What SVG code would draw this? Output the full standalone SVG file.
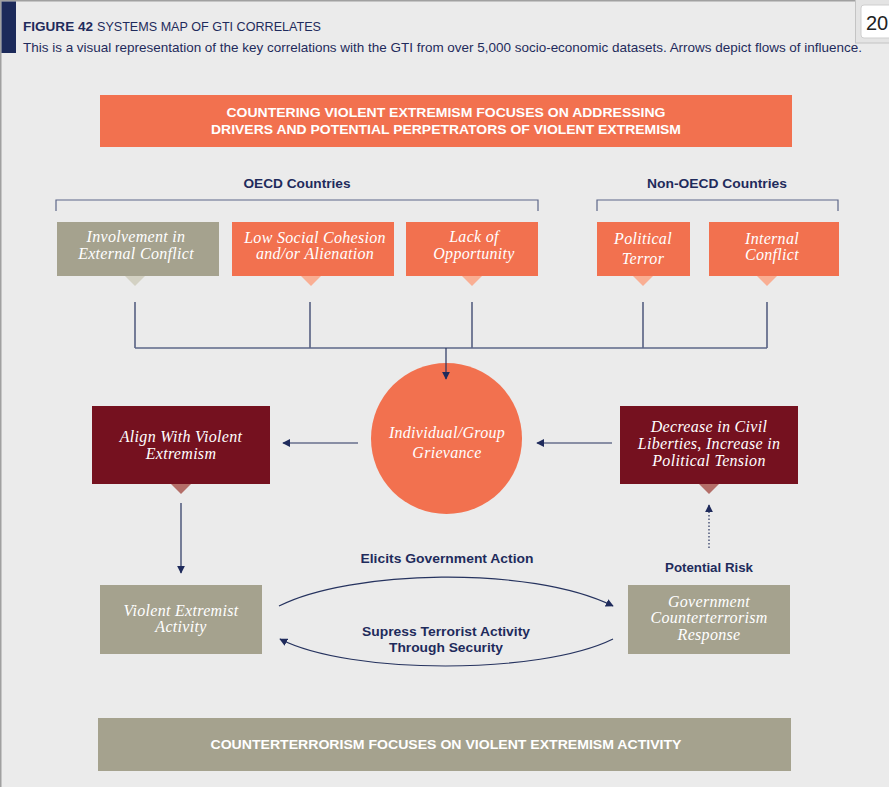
<svg xmlns="http://www.w3.org/2000/svg" width="889" height="787" viewBox="0 0 889 787">
<style>
.bg{fill:#ebebeb}
.orange{fill:#f2714f}
.gray{fill:#a5a28e}
.maroon{fill:#75111f}
.tri-o{fill:#f9ae93}
.tri-g{fill:#d3d1c3}
.tri-m{fill:#b46e68}
.serif{font-family:"Liberation Serif","DejaVu Serif",serif;font-style:italic;font-size:16px;fill:#ffffff;text-anchor:middle;letter-spacing:0.3px}
.lbl{font-family:"Liberation Sans",Arial,sans-serif;font-weight:bold;font-size:13px;fill:#1f2b5c;text-anchor:middle}
.ban{font-family:"Liberation Sans",Arial,sans-serif;font-weight:bold;font-size:13px;fill:#ffffff;text-anchor:middle}
.ln{stroke:#26335f;stroke-width:1.2;fill:none}
.br{stroke:#5d6789;stroke-width:1.2;fill:none}
</style>
<defs>
<marker id="ah" viewBox="0 0 10 10" refX="9" refY="5" markerWidth="8" markerHeight="8" markerUnits="userSpaceOnUse" orient="auto">
<path d="M0,0 L10,5 L0,10 Z" fill="#1f2b5c"/>
</marker>
</defs>
<rect class="bg" x="0" y="0" width="889" height="787"/>
<rect x="0" y="0" width="856" height="1.5" fill="#a0a0a0"/>
<rect x="0" y="0" width="1.5" height="787" fill="#a0a0a0"/>
<rect x="855.5" y="-1" width="40" height="44" fill="#e4e4e4" stroke="#c4c4c4"/>
<rect x="861" y="5" width="40" height="33" rx="3" fill="#ffffff" stroke="#cfcfcf"/>
<text x="866" y="30" font-family="Liberation Sans,Arial,sans-serif" font-size="20" fill="#222">20</text>
<rect x="1.5" y="1.5" width="14.5" height="51.5" fill="#1c2a5a"/>
<text x="23" y="31" font-family="Liberation Sans,Arial,sans-serif" font-size="13" fill="#1f2b5c"><tspan font-weight="bold" textLength="70" lengthAdjust="spacingAndGlyphs">FIGURE 42</tspan><tspan x="97" textLength="224" lengthAdjust="spacingAndGlyphs">SYSTEMS MAP OF GTI CORRELATES</tspan></text>
<text x="23" y="52" font-family="Liberation Sans,Arial,sans-serif" font-size="13" fill="#1f2b5c" textLength="839" lengthAdjust="spacingAndGlyphs">This is a visual representation of the key correlations with the GTI from over 5,000 socio-economic datasets. Arrows depict flows of influence.</text>

<g id="banner-top">
<rect class="orange" x="100" y="95" width="692" height="52"/>
<text class="ban" x="446" y="117" textLength="439" lengthAdjust="spacingAndGlyphs">COUNTERING VIOLENT EXTREMISM FOCUSES ON ADDRESSING</text>
<text class="ban" x="446" y="134" textLength="470" lengthAdjust="spacingAndGlyphs">DRIVERS AND POTENTIAL  PERPETRATORS OF VIOLENT EXTREMISM</text>
</g>

<g id="oecd">
<text class="lbl" x="297" y="188" textLength="107" lengthAdjust="spacingAndGlyphs">OECD Countries</text>
<path class="br" d="M56,211 V200 H538 V211"/>
</g>
<g id="non-oecd">
<text class="lbl" x="717" y="188" textLength="140" lengthAdjust="spacingAndGlyphs">Non-OECD Countries</text>
<path class="br" d="M597,211 V200 H838 V211"/>
</g>

<g id="involvement">
<rect class="gray" x="57" y="222" width="162" height="54"/>
<path class="tri-g" d="M125,276 L145,276 L135,286 Z"/>
<text class="serif" x="136" y="242">Involvement in</text>
<text class="serif" x="136" y="259">External Conflict</text>
</g>
<g id="social-cohesion">
<rect class="orange" x="232" y="222" width="162" height="54"/>
<path class="tri-o" d="M301,276 L321,276 L311,286 Z"/>
<text class="serif" x="315" y="243">Low Social Cohesion</text>
<text class="serif" x="315" y="259">and/or Alienation</text>
</g>
<g id="opportunity">
<rect class="orange" x="406" y="222" width="132" height="54"/>
<path class="tri-o" d="M462,276 L482,276 L472,286 Z"/>
<text class="serif" x="474" y="242">Lack of</text>
<text class="serif" x="474" y="259">Opportunity</text>
</g>
<g id="political-terror">
<rect class="orange" x="597" y="222" width="93" height="54"/>
<path class="tri-o" d="M633,276 L653,276 L643,286 Z"/>
<text class="serif" x="643" y="244">Political</text>
<text class="serif" x="643" y="264">Terror</text>
</g>
<g id="internal-conflict">
<rect class="orange" x="709" y="222" width="130" height="54"/>
<path class="tri-o" d="M757,276 L777,276 L767,286 Z"/>
<text class="serif" x="772" y="244">Internal</text>
<text class="serif" x="772" y="260">Conflict</text>
</g>

<g id="grievance">
<circle class="orange" cx="446.5" cy="438.5" r="75.5"/>
<text class="serif" x="447" y="438">Individual/Group</text>
<text class="serif" x="447" y="458">Grievance</text>
</g>

<g id="align">
<rect class="maroon" x="92" y="406" width="178" height="78"/>
<path class="tri-m" d="M171,484 L191,484 L181,494 Z"/>
<text class="serif" x="181" y="442">Align With Violent</text>
<text class="serif" x="181" y="459">Extremism</text>
</g>
<g id="civil-liberties">
<rect class="maroon" x="620" y="406" width="178" height="78"/>
<path class="tri-m" d="M699,484 L719,484 L709,494 Z"/>
<text class="serif" x="709" y="432">Decrease in Civil</text>
<text class="serif" x="709" y="449">Liberties, Increase in</text>
<text class="serif" x="709" y="466">Political Tension</text>
</g>

<g id="violent-activity">
<rect class="gray" x="100" y="585" width="162" height="69"/>
<text class="serif" x="181" y="616">Violent Extremist</text>
<text class="serif" x="181" y="632">Activity</text>
</g>
<g id="gov-response">
<rect class="gray" x="628" y="585" width="162" height="69"/>
<text class="serif" x="709" y="607">Government</text>
<text class="serif" x="709" y="623">Counterterrorism</text>
<text class="serif" x="709" y="640">Response</text>
</g>

<g id="banner-bottom">
<rect class="gray" x="98" y="718" width="693" height="53"/>
<text class="ban" x="446" y="749" textLength="471" lengthAdjust="spacingAndGlyphs">COUNTERTERRORISM FOCUSES ON VIOLENT EXTREMISM ACTIVITY</text>
</g>

<g id="connectors">
<path class="ln" d="M135,302 V348 M310,302 V348 M472,302 V348 M643,302 V348 M767,302 V348"/>
<path d="M135,348 H767" stroke="#5d6789" stroke-width="1.5" fill="none"/>
<path class="ln" d="M446,348 V379" marker-end="url(#ah)"/>
<path class="ln" d="M358,443 H283" marker-end="url(#ah)"/>
<path class="ln" d="M612,443 H537" marker-end="url(#ah)"/>
<path class="ln" d="M181,503 V573" marker-end="url(#ah)"/>
<path class="ln" d="M709,548 V505" stroke-dasharray="1.5,2" stroke-width="1" marker-end="url(#ah)"/>
<path class="ln" d="M279,606 C350,570 530,565 613,606" marker-end="url(#ah)"/>
<path class="ln" d="M613,639 C540,675 350,675 280,639" marker-end="url(#ah)"/>
<text class="lbl" x="447" y="563" textLength="173" lengthAdjust="spacingAndGlyphs">Elicits Government Action</text>
<text class="lbl" x="446" y="636" textLength="168" lengthAdjust="spacingAndGlyphs">Supress Terrorist Activity</text>
<text class="lbl" x="446" y="652" textLength="114" lengthAdjust="spacingAndGlyphs">Through Security</text>
<text class="lbl" x="709" y="572" textLength="88" lengthAdjust="spacingAndGlyphs">Potential Risk</text>
</g>
</svg>
